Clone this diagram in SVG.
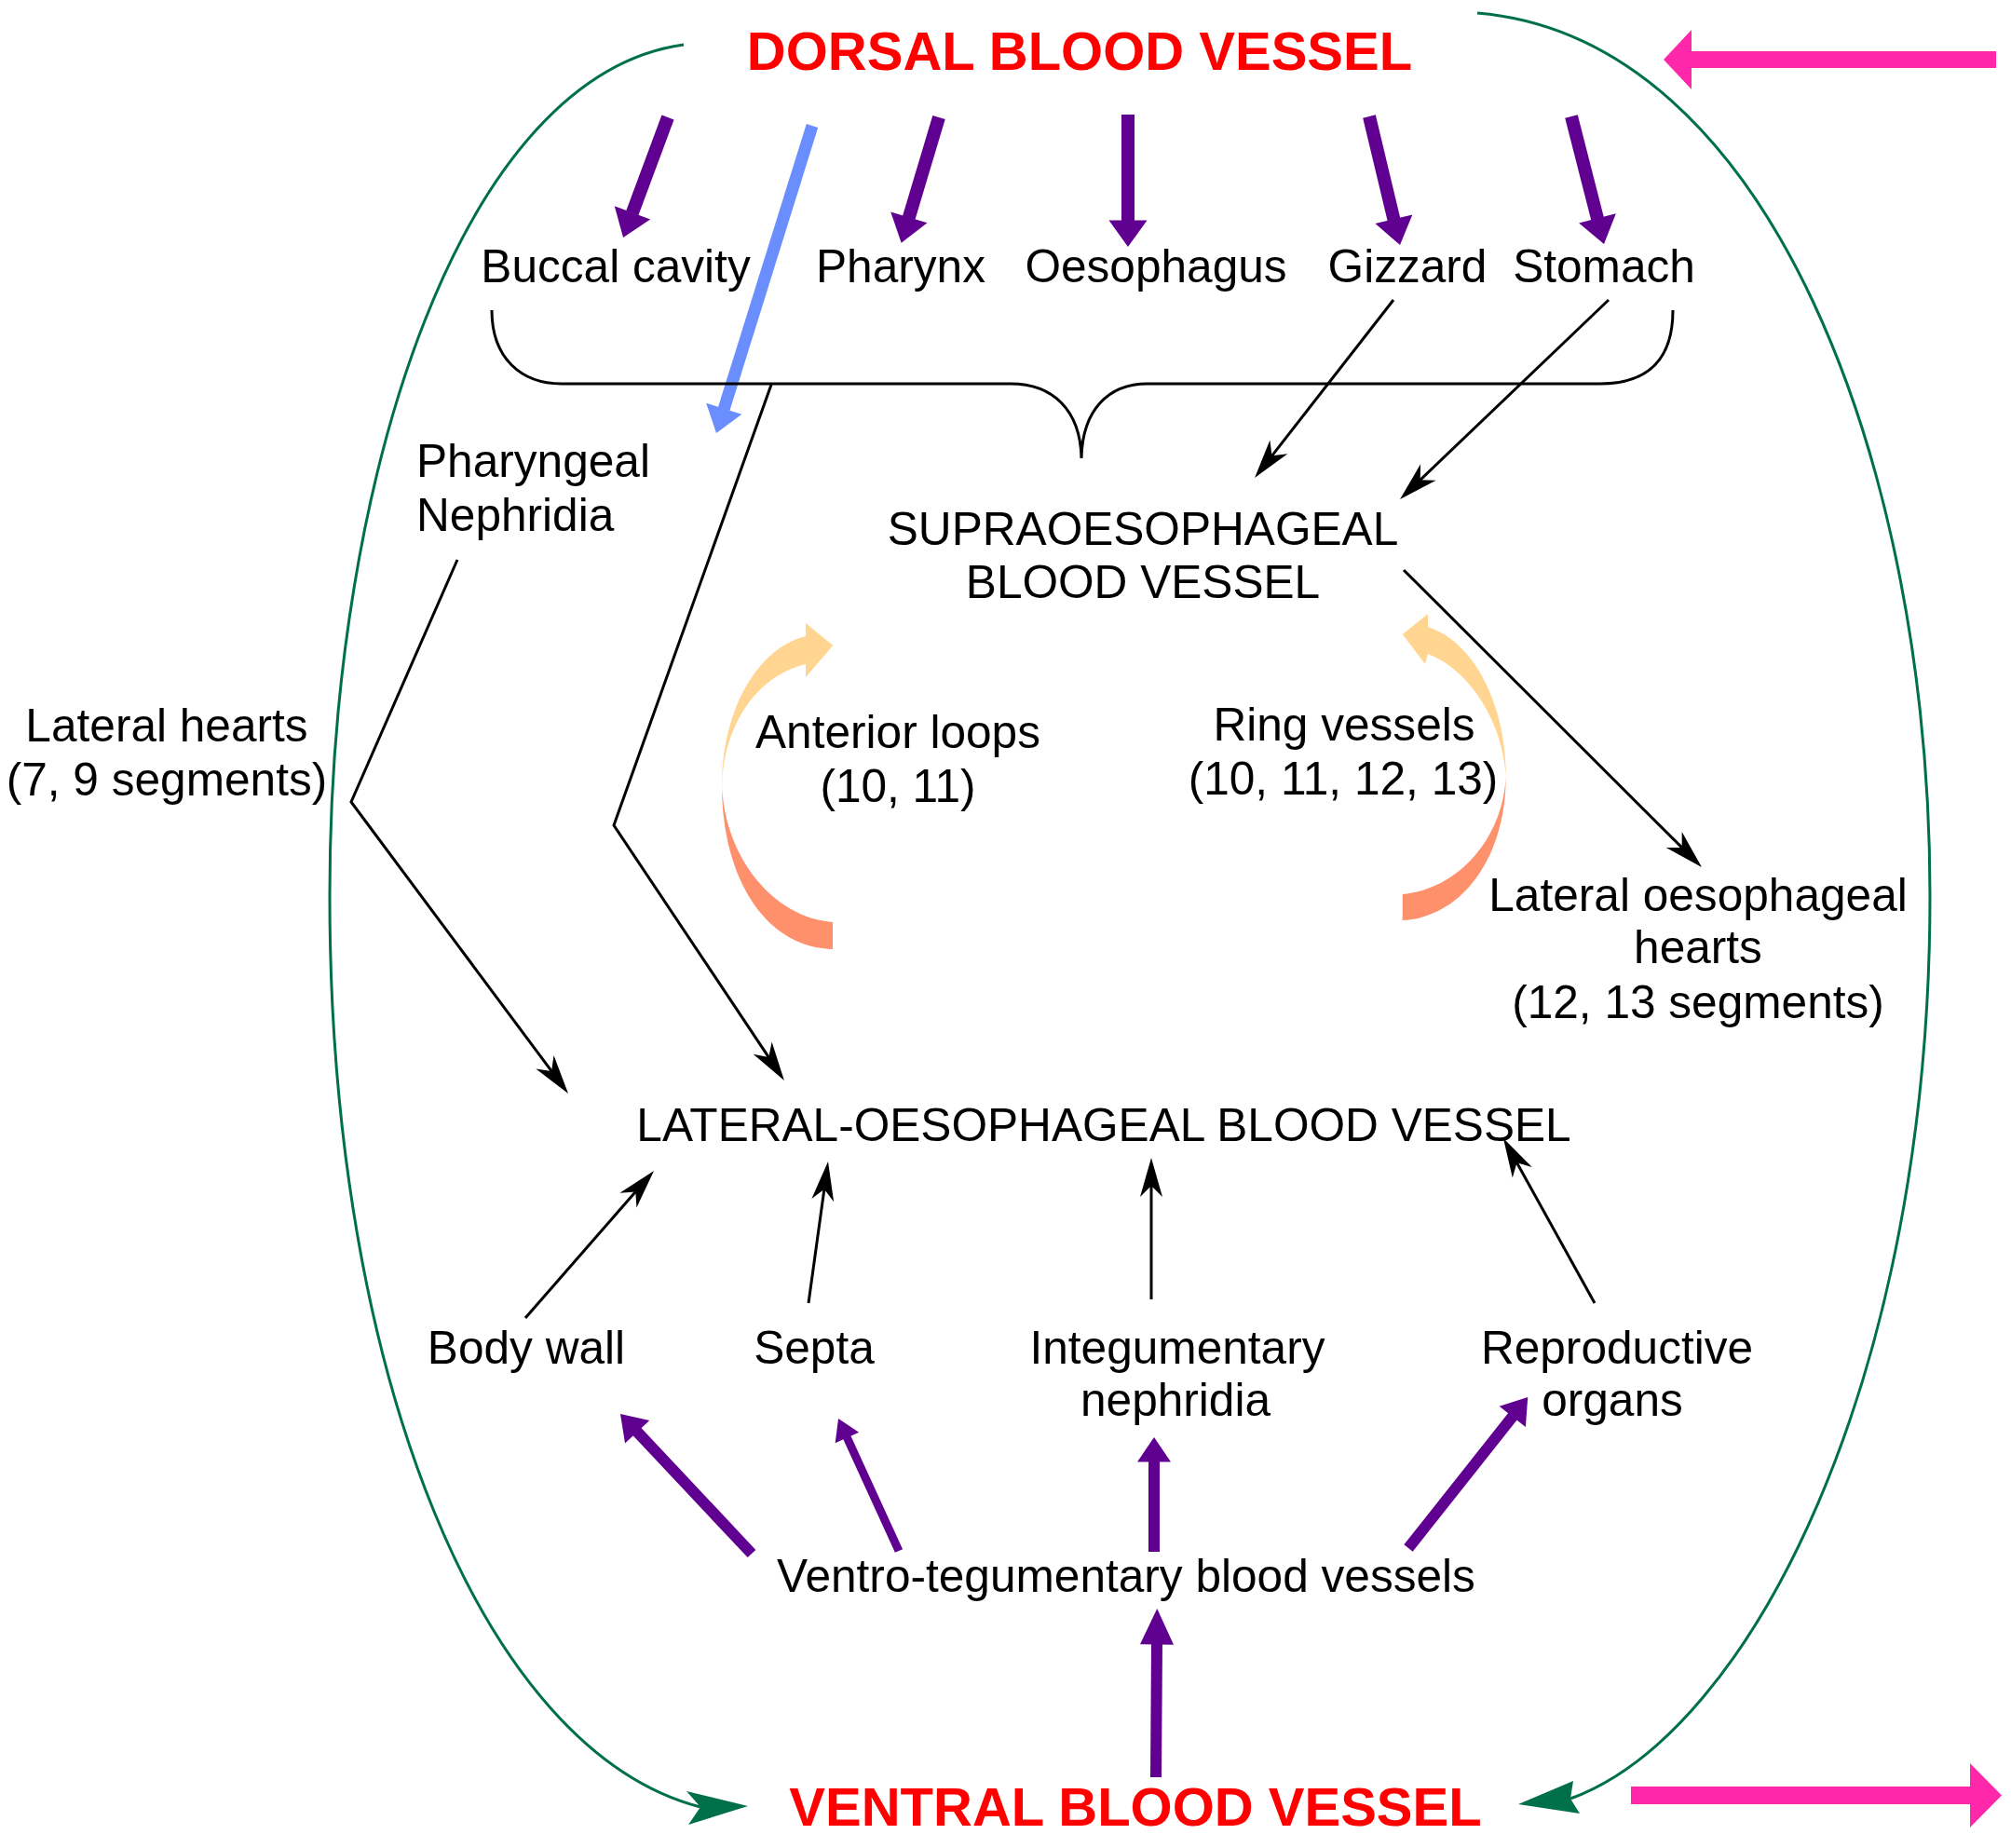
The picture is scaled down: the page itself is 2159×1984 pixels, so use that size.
<svg xmlns="http://www.w3.org/2000/svg" width="2159" height="1984" viewBox="0 0 2159 1984">
<style>
text{font-family:"Liberation Sans",Arial,sans-serif;font-size:49.6px;fill:#000;text-anchor:middle}
.red{font-weight:bold;font-size:58px;fill:#FF0000}
.blk{fill:none;stroke:#000;stroke-width:3}
.pur{fill:none;stroke:#600090;stroke-width:14}
.purb{fill:none;stroke:#600090;stroke-width:12}
.grn{fill:none;stroke:#00704A;stroke-width:3}
</style>
<defs>
<marker id="mb" markerUnits="userSpaceOnUse" viewBox="-13 -13 44 26" refX="0" refY="0" markerWidth="44" markerHeight="26" orient="auto"><path d="M-12,-12 L30,0 L-12,12 L0,0 Z" fill="#000"/></marker>
<marker id="mp" markerUnits="userSpaceOnUse" viewBox="-1 -21 30 42" refX="0" refY="0" markerWidth="30" markerHeight="42" orient="auto"><path d="M-0.5,-20.5 L28,0 L-0.5,20.5 Z" fill="#600090"/></marker>
<marker id="mpb" markerUnits="userSpaceOnUse" viewBox="-1 -19 28 38" refX="0" refY="0" markerWidth="28" markerHeight="38" orient="auto"><path d="M-0.5,-18 L26,0 L-0.5,18 Z" fill="#600090"/></marker>
<marker id="mps" markerUnits="userSpaceOnUse" viewBox="-1 -15 24 30" refX="0" refY="0" markerWidth="24" markerHeight="30" orient="auto"><path d="M-0.5,-14 L22,0 L-0.5,14 Z" fill="#600090"/></marker>
<marker id="mpv" markerUnits="userSpaceOnUse" viewBox="-1 -19 40 38" refX="0" refY="0" markerWidth="40" markerHeight="38" orient="auto"><path d="M-0.5,-18 L38,0 L-0.5,18 Z" fill="#600090"/></marker>
<marker id="mbl" markerUnits="userSpaceOnUse" viewBox="-1 -21 29 42" refX="0" refY="0" markerWidth="29" markerHeight="42" orient="auto"><path d="M-0.5,-20 L27,0 L-0.5,20 Z" fill="#6B8EFF"/></marker>
<linearGradient id="gl" gradientUnits="userSpaceOnUse" x1="0" y1="669" x2="0" y2="1019"><stop offset="0" stop-color="#FFD591"/><stop offset="0.46" stop-color="#FFD591"/><stop offset="0.54" stop-color="#FF906C"/><stop offset="1" stop-color="#FF906C"/></linearGradient>
<linearGradient id="gr" gradientUnits="userSpaceOnUse" x1="0" y1="659" x2="0" y2="988"><stop offset="0" stop-color="#FFD591"/><stop offset="0.49" stop-color="#FFD591"/><stop offset="0.57" stop-color="#FF906C"/><stop offset="1" stop-color="#FF906C"/></linearGradient>
</defs>

<g id="connectors">
  <!-- green circulation curves -->
  <path class="grn" d="M734,48 C500,80 354,500 354,962 C354,1480 520,1880 752,1940"/>
  <polygon points="803,1939 737,1923 752,1940 739,1959" fill="#00704A"/>
  <path class="grn" d="M1586,14 C1900,40 2072,500 2072,962 C2072,1480 1880,1860 1686,1931"/>
  <polygon points="1630,1937 1689,1912 1686,1931 1696,1947" fill="#00704A"/>
  <!-- pink arrows -->
  <polygon points="2143,55 1816,55 1816,32 1786,64 1816,96 1816,73 2143,73" fill="#FF28AA"/>
  <polygon points="1751,1918 2115,1918 2115,1893 2149,1927.5 2115,1962 2115,1937 1751,1937" fill="#FF28AA"/>
  <!-- dorsal to organs -->
  <line class="pur" x1="717" y1="126" x2="678.8" y2="228.8" marker-end="url(#mp)"/>
  <line class="pur" x1="1008" y1="126" x2="975.7" y2="233.9" marker-end="url(#mp)"/>
  <line class="pur" x1="1211" y1="123" x2="1211" y2="237" marker-end="url(#mp)"/>
  <line class="pur" x1="1470" y1="125" x2="1496.5" y2="235.8" marker-end="url(#mp)"/>
  <line class="pur" x1="1687" y1="125" x2="1715.1" y2="234.9" marker-end="url(#mp)"/>
  <!-- blue arrow -->
  <line x1="872" y1="135" x2="777.1" y2="439.2" stroke="#6B8EFF" stroke-width="13" marker-end="url(#mbl)"/>
  <!-- brace -->
  <path class="blk" d="M528,333 C528,385 560,412 603,412 L1085,412 C1130,412 1160,440 1161,492 C1162,440 1190,412 1232,412 L1718,412 C1770,412 1796,385 1796,333"/>
  <!-- black arrows -->
  <polyline class="blk" points="491,601 377,861 592.1,1149.9" marker-end="url(#mb)"/>
  <polyline class="blk" points="828,413 659,886 825.3,1135.1" marker-end="url(#mb)"/>
  <line class="blk" x1="1496" y1="322" x2="1365.5" y2="489.3" marker-end="url(#mb)"/>
  <line class="blk" x1="1727" y1="322" x2="1524.7" y2="515.3" marker-end="url(#mb)"/>
  <line class="blk" x1="1507" y1="612" x2="1805.7" y2="909.9" marker-end="url(#mb)"/>
  <line class="blk" x1="564" y1="1415" x2="682.3" y2="1279.6" marker-end="url(#mb)"/>
  <line class="blk" x1="868" y1="1399" x2="884.9" y2="1276.7" marker-end="url(#mb)"/>
  <line class="blk" x1="1236" y1="1395" x2="1236" y2="1273" marker-end="url(#mb)"/>
  <line class="blk" x1="1712" y1="1399" x2="1628.5" y2="1248.3" marker-end="url(#mb)"/>
  <!-- ventro-tegumentary purple arrows -->
  <line class="purb" x1="807" y1="1668" x2="683.8" y2="1536.9" marker-end="url(#mpb)"/>
  <line x1="965" y1="1665" x2="909.2" y2="1543" stroke="#600090" stroke-width="9" marker-end="url(#mps)"/>
  <line class="purb" x1="1239" y1="1666" x2="1239" y2="1569" marker-end="url(#mpb)"/>
  <line class="purb" x1="1512" y1="1662" x2="1624.1" y2="1520.5" marker-end="url(#mpb)"/>
  <line class="purb" x1="1241" y1="1908" x2="1242" y2="1765" marker-end="url(#mpv)"/>
  <!-- loops -->
  <path id="anterior-loop-arrow" fill="url(#gl)" d="M865,683 L865,669 L894.3,693 L865,727 L865,713 C815,725 777,775 775,843 C778,920 830,985 894,990 L894,1019 C820,1017 775,940 775,843 C775,760 815,695 865,683 Z"/>
  <path id="ring-vessel-arrow" fill="url(#gr)" d="M1533,673 L1533,659 L1505.7,681 L1530,713 L1533,702 C1575,718 1612,770 1616.7,833 C1614,900 1565,955 1505.7,960 L1505.7,988 C1570,985 1617,920 1616.7,833 C1616.7,760 1585,690 1533,673 Z"/>
</g>

<g id="dorsal"><text class="red" x="1159" y="75">DORSAL BLOOD VESSEL</text></g>
<g id="ventral"><text class="red" x="1219" y="1960">VENTRAL BLOOD VESSEL</text></g>
<g id="buccal"><text x="661" y="303">Buccal cavity</text></g>
<g id="pharynx"><text x="967" y="303">Pharynx</text></g>
<g id="oesophagus"><text x="1241" y="303">Oesophagus</text></g>
<g id="gizzard"><text x="1511" y="303">Gizzard</text></g>
<g id="stomach"><text x="1722" y="303">Stomach</text></g>
<g id="pharyngeal-nephridia"><text x="447" y="512" style="text-anchor:start">Pharyngeal</text><text x="447" y="570" style="text-anchor:start">Nephridia</text></g>
<g id="lateral-hearts"><text x="179" y="796">Lateral hearts</text><text x="179" y="854">(7, 9 segments)</text></g>
<g id="supraoesophageal"><text x="1227" y="585">SUPRAOESOPHAGEAL</text><text x="1227" y="642">BLOOD VESSEL</text></g>
<g id="anterior-loops"><text x="964" y="803">Anterior loops</text><text x="964" y="861">(10, 11)</text></g>
<g id="ring-vessels"><text x="1443" y="795">Ring vessels</text><text x="1442" y="853">(10, 11, 12, 13)</text></g>
<g id="lateral-oesophageal-hearts"><text x="1823" y="978">Lateral oesophageal</text><text x="1823" y="1034">hearts</text><text x="1823" y="1093">(12, 13 segments)</text></g>
<g id="lateral-oesophageal-vessel"><text x="1185" y="1225">LATERAL-OESOPHAGEAL BLOOD VESSEL</text></g>
<g id="body-wall"><text x="565" y="1464">Body wall</text></g>
<g id="septa"><text x="874" y="1464">Septa</text></g>
<g id="integumentary"><text x="1264" y="1464">Integumentary</text><text x="1262" y="1520">nephridia</text></g>
<g id="reproductive"><text x="1736" y="1464">Reproductive</text><text x="1731" y="1520">organs</text></g>
<g id="ventro-tegumentary"><text x="1209" y="1709">Ventro-tegumentary blood vessels</text></g>
</svg>
